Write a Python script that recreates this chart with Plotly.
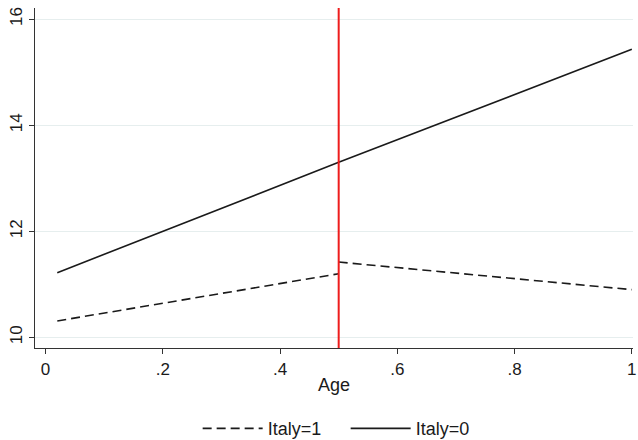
import plotly.graph_objects as go

# Data
age_solid = [0.02, 0.5, 1.0]
italy0 = [11.22, 13.30, 15.43]

age_dashed = [0.02, 0.5, None, 0.5, 1.0]
italy1 = [10.31, 11.20, None, 11.42, 10.90]

x_ticks = [0, 0.2, 0.4, 0.6, 0.8, 1]
x_tick_labels = ["0", ".2", ".4", ".6", ".8", "1"]
y_ticks = [10, 12, 14, 16]
y_tick_labels = ["10", "12", "14", "16"]
cutoff = 0.5

fig = go.Figure()
fig.add_trace(go.Scatter(x=age_dashed, y=italy1, mode="lines", name="Italy=1",
                         line=dict(color="#1a1a1a", width=1.6, dash="9px,5px"),
                         connectgaps=False))
fig.add_trace(go.Scatter(x=age_solid, y=italy0, mode="lines", name="Italy=0",
                         line=dict(color="#1a1a1a", width=1.6)))

fig.add_shape(type="line", x0=cutoff, x1=cutoff, y0=0, y1=1, xref="x", yref="paper",
              line=dict(color="#ee1c1c", width=2))

family = "Liberation Sans, Arial, sans-serif"
tick_font = dict(family=family, size=17, color="#1a1a1a")
big_font = dict(family=family, size=18, color="#1a1a1a")

fig.update_layout(
    width=638, height=440,
    margin=dict(l=35, r=5, t=8, b=92, autoexpand=False),
    paper_bgcolor="white", plot_bgcolor="white",
    font=tick_font,
    showlegend=True,
    legend=dict(orientation="h", x=0.272, xanchor="left", y=-0.183, yanchor="top",
                itemwidth=60, entrywidth=73, entrywidthmode="pixels",
                font=big_font, traceorder="normal"),
    xaxis=dict(range=[-0.018, 1.002], tickvals=x_ticks, ticktext=x_tick_labels,
               showgrid=False, zeroline=False, showline=True, linecolor="#333333",
               linewidth=1.2, ticks="outside", ticklen=5, tickcolor="#333333",
               tickfont=tick_font, automargin=False, ticklabeloverflow="allow",
               title=dict(text="Age", standoff=0, font=big_font)),
    yaxis=dict(range=[9.80, 16.21], tickvals=y_ticks, ticktext=y_tick_labels,
               showgrid=True, gridcolor="#e6eeee", gridwidth=1, zeroline=False,
               showline=True, linecolor="#333333", linewidth=1.2,
               ticks="outside", ticklen=5, tickcolor="#333333", tickangle=-90,
               tickfont=tick_font, automargin=False, ticklabeloverflow="allow"),
)

fig.write_html("out.html", config={"displayModeBar": False},
               post_script="document.body.style.margin='0';document.body.style.padding='0';")
